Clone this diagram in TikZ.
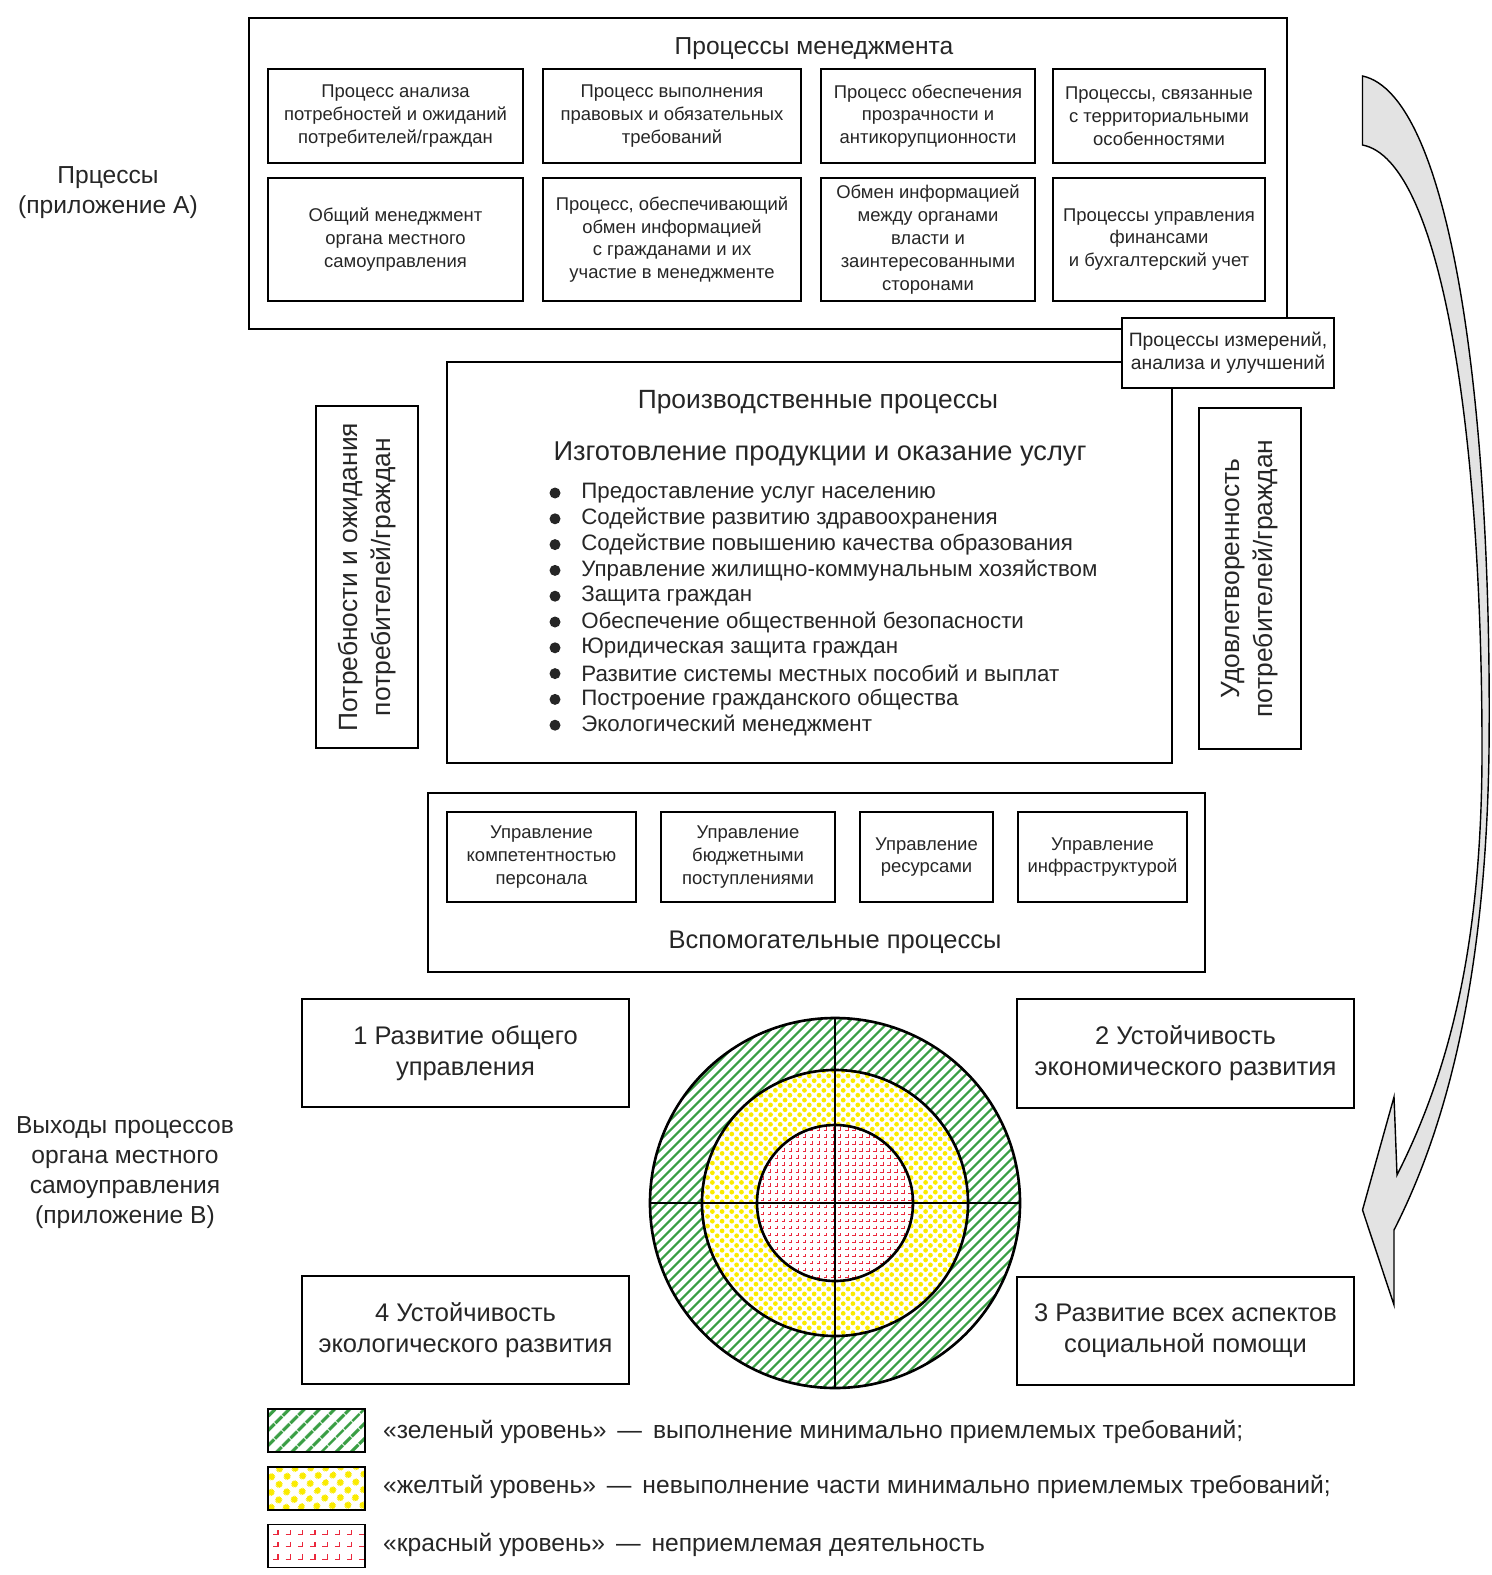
\documentclass[tikz,border=0pt]{standalone}
\usepackage{fontspec}
\setmainfont{Liberation Sans}
\usetikzlibrary{patterns,patterns.meta}

\definecolor{lvlgreen}{RGB}{58,158,68}
\definecolor{lvlyellow}{RGB}{250,235,0}
\definecolor{lvlred}{RGB}{235,40,60}

\tikzdeclarepattern{
  name=redmarks,
  type=uncolored,
  bottom left={(-.1pt,-.1pt)},
  top right={(4.1pt,4.1pt)},
  tile size={(4pt,4pt)},
  code={\draw[line width=.45pt] (.9pt,1.2pt) -- (2.5pt,1.2pt) -- (2.5pt,2.8pt);}
}
\tikzdeclarepattern{
  name=redmarksbig,
  type=uncolored,
  bottom left={(-.1pt,-.1pt)},
  top right={(7.1pt,7.1pt)},
  tile size={(7pt,7pt)},
  code={\draw[line width=.7pt] (1.5pt,2pt) -- (4.2pt,2pt) -- (4.2pt,4.8pt);}
}

\begin{document}
\begin{tikzpicture}[
  txt/.style={text=black!85},
  frame/.style={draw, line width=1.3pt},
  box/.style={draw, line width=.9pt, align=center, inner sep=1pt, txt, font=\fontsize{10.5}{13}\selectfont},
  head/.style={txt, font=\fontsize{14}{16}\selectfont},
  lbl/.style={txt, align=center, font=\fontsize{14}{17}\selectfont},
  side/.style={draw, line width=1.4pt, rotate=90, align=center, txt, font=\fontsize{15}{18.7}\selectfont},
  outc/.style={draw, line width=1.4pt, align=center, txt, font=\fontsize{14.5}{17.6}\selectfont},
  dot/.style={circle, fill=black!85, inner sep=0pt, minimum size=.22cm},
  item/.style={anchor=west, txt, inner sep=0pt, font=\fontsize{12.7}{14}\selectfont},
  ring/.style={line width=1.5pt},
  green lev/.style={pattern={Lines[angle=45,distance=4pt,line width=1.3pt]}, pattern color=lvlgreen},
  yellow lev/.style={pattern={Dots[radius=1.35pt,distance=3.9pt,angle=45]}, pattern color=lvlyellow},
  red lev/.style={pattern=redmarks, pattern color=lvlred},
  key/.style={draw, line width=1.1pt, minimum width=1.94cm, minimum height=.86cm},
  keytxt/.style={anchor=west, txt, font=\fontsize{14}{16}\selectfont}
]
\useasboundingbox (0,0) rectangle (29.82,-31.5);

% management processes
\node[frame, minimum width=20.76cm, minimum height=6.22cm] (mgmt) at (15.36,-3.47) {};
\node[head] (mgmtT) at (16.28,-0.98) {Процессы менеджмента};

\node[box, minimum width=5.10cm, minimum height=1.88cm] (m1) at (7.91,-2.32) {Процесс анализа\\потребностей и ожиданий\\потребителей/граждан};
\node[box, minimum width=5.16cm, minimum height=1.88cm] (m2) at (13.44,-2.32) {Процесс выполнения\\правовых и обязательных\\требований};
\node[box, minimum width=4.28cm, minimum height=1.88cm] (m3) at (18.56,-2.32) {Процесс обеспечения\\прозрачности и\\антикорупционности};
\node[box, minimum width=4.24cm, minimum height=1.88cm] (m4) at (23.18,-2.32) {Процессы, связанные\\с территориальными\\особенностями};

\node[box, minimum width=5.10cm, minimum height=2.46cm] (m5) at (7.91,-4.79) {Общий менеджмент\\органа местного\\самоуправления};
\node[box, minimum width=5.16cm, minimum height=2.46cm] (m6) at (13.44,-4.79) {Процесс, обеспечивающий\\обмен информацией\\с гражданами и их\\участие в менеджменте};
\node[box, minimum width=4.28cm, minimum height=2.46cm] (m7) at (18.56,-4.79) {Обмен информацией\\между органами\\власти и\\заинтересованными\\сторонами};
\node[box, minimum width=4.24cm, minimum height=2.46cm] (m8) at (23.18,-4.79) {Процессы управления\\финансами\\и бухгалтерский учет};

\node[lbl] (procA) at (2.16,-3.86) {Прцессы\\(приложение А)};

% production processes
\node[frame, minimum width=14.5cm, minimum height=8.02cm] (prod) at (16.19,-11.25) {};
\node[head, font=\fontsize{15}{18}\selectfont] (prodT) at (16.36,-8.04) {Производственные процессы};
\node[head, font=\fontsize{15.5}{18}\selectfont] (prodS) at (16.4,-9.08) {Изготовление продукции и оказание услуг};

\foreach \t [count=\i] in {Предоставление услуг населению,
  Содействие развитию здравоохранения,
  Содействие повышению качества образования,
  Управление жилищно-коммунальным хозяйством,
  Защита граждан,
  Обеспечение общественной безопасности,
  Юридическая защита граждан,
  Развитие системы местных пособий и выплат,
  Построение гражданского общества,
  Экологический менеджмент}{
  \node[dot] (d\i) at (11.10,{-9.86-0.516*(\i-1)}) {};
  \node[item] (it\i) at (11.62,{-9.86-0.516*(\i-1)}) {\t};
}

% measurement box sits over both corners
\node[box, fill=white, line width=.7pt, font=\fontsize{11}{13}\selectfont, minimum width=4.24cm, minimum height=1.40cm] (meas) at (24.56,-7.06) {Процессы измерений,\\анализа и улучшений};

\node[side, minimum width=6.84cm, minimum height=2.04cm] (needs) at (7.34,-11.54) {Потребности и ожидания\\потребителей/граждан};
\node[side, minimum width=6.82cm, minimum height=2.04cm] (satis) at (25.0,-11.57) {Удовлетворенность\\потребителей/граждан};

% support processes
\node[frame, minimum width=15.54cm, minimum height=3.58cm] (supp) at (16.33,-17.65) {};
\node[box, line width=.7pt, minimum width=3.78cm, minimum height=1.80cm] (s1) at (10.83,-17.14) {Управление\\компетентностью\\персонала};
\node[box, line width=.7pt, minimum width=3.48cm, minimum height=1.80cm] (s2) at (14.96,-17.14) {Управление\\бюджетными\\поступлениями};
\node[box, line width=.7pt, minimum width=2.66cm, minimum height=1.80cm] (s3) at (18.53,-17.14) {Управление\\ресурсами};
\node[box, line width=.7pt, minimum width=3.38cm, minimum height=1.80cm] (s4) at (22.05,-17.14) {Управление\\инфраструктурой};
\node[head, font=\fontsize{14.5}{17}\selectfont] (suppT) at (16.70,-18.84) {Вспомогательные процессы};

% outputs
\node[outc, minimum width=6.54cm, minimum height=2.16cm] (o1) at (9.31,-21.06) {1 Развитие общего\\управления};
\node[outc, minimum width=6.74cm, minimum height=2.18cm] (o2) at (23.71,-21.07) {2 Устойчивость\\экономического развития};
\node[outc, minimum width=6.74cm, minimum height=2.16cm] (o3) at (23.71,-26.62) {3 Развитие всех аспектов\\социальной помощи};
\node[outc, minimum width=6.54cm, minimum height=2.16cm] (o4) at (9.31,-26.60) {4 Устойчивость\\экологического развития};

\node[lbl] (outB) at (2.5,-23.45) {Выходы процессов\\органа местного\\самоуправления\\(приложение В)};

% target
\coordinate (ctr) at (16.70,-24.06);
\fill[green lev, even odd rule] (ctr) circle (3.70) (ctr) circle (2.66);
\fill[yellow lev, even odd rule] (ctr) circle (2.66) (ctr) circle (1.56);
\fill[red lev] (ctr) circle (1.56);
\draw[ring] (ctr) circle (3.70) (ctr) circle (2.66) (ctr) circle (1.56);
\draw[ring] ([xshift=-3.7cm]ctr) -- ([xshift=3.7cm]ctr);
\draw[ring] ([yshift=-3.7cm]ctr) -- ([yshift=3.7cm]ctr);

% big arrow
\draw[line width=.8pt, fill=gray!22] (27.25,-1.52) .. controls (29.0,-1.9) and (29.85,-8.0) .. (29.78,-15.0)
  .. controls (29.72,-19.5) and (28.95,-22.5) .. (27.88,-24.6)
  -- (27.88,-26.1) -- (27.25,-24.2) -- (27.88,-21.94) -- (27.94,-23.5)
  .. controls (28.95,-21.5) and (29.64,-19.0) .. (29.64,-15.0)
  .. controls (29.64,-8.5) and (28.8,-3.2) .. (27.25,-2.9) -- cycle;

% legend
\node[key, pattern={Lines[angle=45,distance=6.5pt,line width=2.2pt]}, pattern color=lvlgreen] (kg) at (6.33,-28.61) {};
\node[key, pattern={Dots[radius=2.2pt,distance=6.5pt,angle=45]}, pattern color=lvlyellow] (ky) at (6.33,-29.77) {};
\node[key, pattern=redmarksbig, pattern color=lvlred] (kr) at (6.33,-30.92) {};
\node[keytxt] (tg) at (7.54,-28.64) {«зеленый уровень» \,—\, выполнение минимально приемлемых требований;};
\node[keytxt] (ty) at (7.54,-29.74) {«желтый уровень» \,—\, невыполнение части минимально приемлемых требований;};
\node[keytxt] (tr) at (7.54,-30.90) {«красный уровень» \,—\, неприемлемая деятельность};
\end{tikzpicture}
\end{document}
